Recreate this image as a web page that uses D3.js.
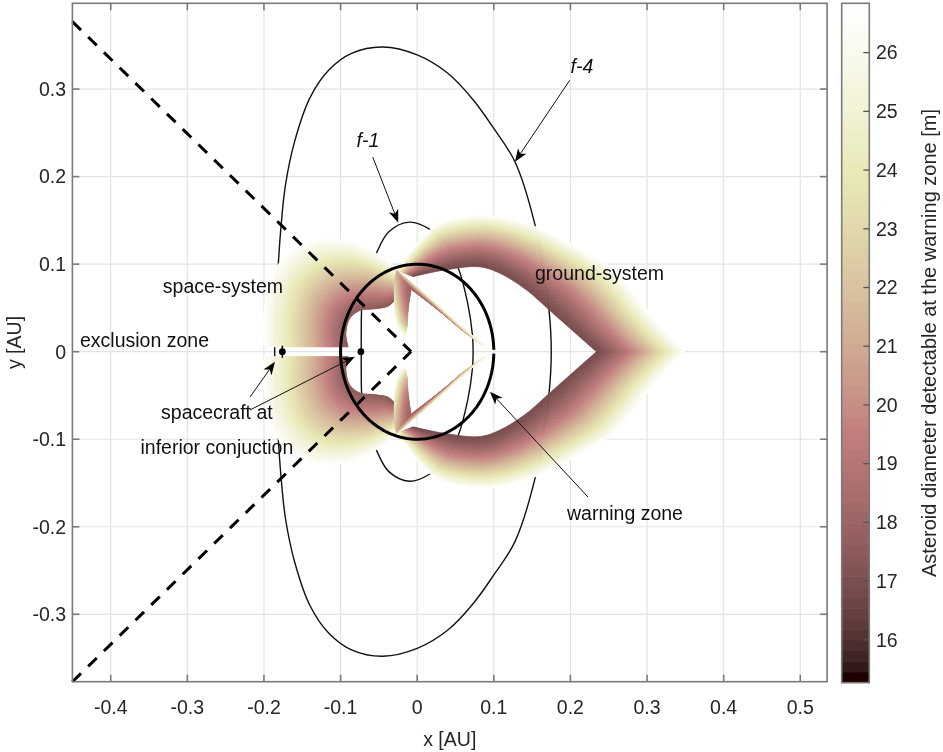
<!DOCTYPE html>
<html><head><meta charset="utf-8">
<script src="https://d3js.org/d3.v7.min.js"></script>
<style>
html,body{margin:0;padding:0;background:#fff;}
#wrap{position:relative;width:943px;height:752px;overflow:hidden;}
#wrap > *{position:absolute;left:0;top:0;}
text{font-family:"Liberation Sans",Arial,sans-serif;}
</style></head><body><div id="wrap"></div>
<script>
// ---------------- data ----------------
const xTicks=[-0.4,-0.3,-0.2,-0.1,0,0.1,0.2,0.3,0.4,0.5];
const yTicks=[-0.3,-0.2,-0.1,0,0.1,0.2,0.3];
const xDomain=[-0.45,0.535];
const yDomain=[-0.377,0.398];
const cbTicks=[16,17,18,19,20,21,22,23,24,25,26];
const cbDomain=[15.27,26.84];
const cbLevels=64;

const warningRadius=0.1;
const exclusionVertex=[-0.008,0];
const exclusionEdge=[-0.45,0.377];
const spacecraftX=[-0.176,-0.0735];

// f-1 and f-4 contours (upper half, mirrored for the lower half)
const f1Upper=[[0.073,0],[0.072,0.02],[0.066,0.055],[0.053,0.097],[0.037,0.123],[0.016,0.14],[-0.01,0.148],[-0.037,0.137],[-0.054,0.111],[-0.066,0.085],[-0.072,0.055],[-0.073,0.02],[-0.073,0]];
const f4Upper=[[0.175,0],[0.172,0.048],[0.163,0.1],[0.1538,0.1448],[0.1276,0.217],[0.1,0.255],[0.0732,0.2876],[0.04,0.318],[0.0,0.339],[-0.045,0.348],[-0.085,0.341],[-0.115,0.322],[-0.14,0.29],[-0.16,0.24],[-0.172,0.19],[-0.178,0.14],[-0.182,0.09],[-0.185,0.04],[-0.186,0]];

// detectable-diameter bands: outer (pale) edge, inner (dark) edge, values [m]
const spaceOuter=[[-0.2,0.0055],[-0.201,0.03],[-0.198,0.06],[-0.188,0.09],[-0.168,0.113],[-0.14,0.126],[-0.11,0.129],[-0.08,0.124],[-0.055,0.113],[-0.038,0.103],[-0.027,0.093]];
const spaceInner=[[-0.09,0.0055],[-0.093,0.02],[-0.088,0.038],[-0.075,0.047],[-0.055,0.049],[-0.038,0.052],[-0.028,0.06]];
const spaceOuterVal=[26.8,26.8];
const spaceInnerVal=[17.3,17.3];

const groundOuter=[[-0.027,0.093],[-0.01,0.113],[0.007,0.131],[0.029,0.147],[0.059,0.154],[0.094,0.156],[0.13,0.15],[0.165,0.139],[0.195,0.1257],[0.225,0.111],[0.2516,0.097],[0.278,0.072],[0.2995,0.0476],[0.325,0.022],[0.3495,0]];
const groundInner=[[-0.005,0.086],[0.037,0.0935],[0.081,0.097],[0.107,0.09],[0.142,0.071],[0.172,0.048],[0.203,0.024],[0.234,0]];
const groundOuterVal=[26.8,26.8];
const groundInnerVal=[16.8,16.8];

const hornOuter=[[-0.027,0.093],[-0.03,0.072],[-0.029,0.05],[-0.025,0.03],[-0.016,0.016]];
const hornInner=[[-0.008,0.072],[-0.01,0.06],[-0.012,0.045],[-0.013,0.03],[-0.016,0.016]];
const hornOuterVal=[21,23,24.5,25.5,26.6];
const hornInnerVal=[18,18.5,19.5,21.5,26.6];

const spikeOuter=[[-0.027,0.093],[0.0,0.073],[0.03,0.05],[0.06,0.027],[0.095,0.002]];
const spikeInner=[[-0.006,0.07],[0.012,0.058],[0.035,0.042],[0.062,0.022],[0.095,0.002]];
const spikeOuterVal=[22,23.5,24.5,25.5,26.6];
const spikeInnerVal=[18,18.5,19.5,21.5,26.6];

// annotations (data coordinates)
const labels=[
  {text:"f-4",x:0.215,y:0.3184,anchor:"middle",italic:true},
  {text:"f-1",x:-0.0642,y:0.2339,anchor:"middle",italic:true},
  {text:"space-system",x:-0.332,y:0.067,anchor:"start"},
  {text:"ground-system",x:0.1538,y:0.0819,anchor:"start"},
  {text:"exclusion zone",x:-0.4401,y:0.0054,anchor:"start"},
  {text:"spacecraft at",x:-0.2614,y:-0.0769,anchor:"middle"},
  {text:"inferior conjuction",x:-0.2614,y:-0.1169,anchor:"middle"},
  {text:"warning zone",x:0.2712,y:-0.1923,anchor:"middle"}
];
const arrows=[
  {from:[0.199,0.31],to:[0.1276,0.217]},
  {from:[-0.058,0.2224],to:[-0.0247,0.1474]},
  {from:[0.2229,-0.166],to:[0.095,-0.0457]},
  {from:[-0.2182,-0.0518],to:[-0.1856,-0.0114]},
  {from:[-0.2182,-0.0666],to:[-0.0812,-0.0057]}
];

// ---------------- setup ----------------
const W=943,H=752;
const wrap=d3.select('#wrap');
const svgB=wrap.append('svg').attr('width',W).attr('height',H);
const canvas=wrap.append('canvas').attr('width',W).attr('height',H).node();
const svgT=wrap.append('svg').attr('width',W).attr('height',H);
const ctx=canvas.getContext('2d');

const x=d3.scaleLinear(xDomain,[72.4,827.1]);
const y=d3.scaleLinear(yDomain,[681.7,3.3]);
const plotL=x(xDomain[0]),plotR=x(xDomain[1]),plotT=y(yDomain[1]),plotB=y(yDomain[0]);

function pinkRGB(t){
  const k=t*(cbLevels-1);
  const rh=Math.min(1,(k+1)/24), gh=Math.max(0,Math.min(1,(k-23)/24)), bh=Math.max(0,Math.min(1,(k-47)/16));
  return [rh,gh,bh].map(h=>Math.round(255*Math.sqrt((2*t+h)/3)));
}
function pinkCss(t){const c=pinkRGB(t);return `rgb(${c[0]},${c[1]},${c[2]})`;}
const colorT=d3.scaleLinear(cbDomain,[0,1]).clamp(true);

const mirror=pts=>pts.map(([a,b])=>[a,-b]);
function closedCurve(upper){return upper.concat(mirror(upper).slice(1,-1).reverse());}

// ---------------- grid ----------------
const grid=svgB.append('g').attr('stroke','#e4e4e4').attr('stroke-width',1.2);
grid.selectAll('line.gx').data(xTicks).join('line').attr('x1',d=>x(d)).attr('x2',d=>x(d)).attr('y1',plotT).attr('y2',plotB);
grid.selectAll('line.gy').data(yTicks).join('line').attr('y1',d=>y(d)).attr('y2',d=>y(d)).attr('x1',plotL).attr('x2',plotR);

// ---------------- f contours ----------------
const lineClosed=d3.line().x(d=>x(d[0])).y(d=>y(d[1])).curve(d3.curveCatmullRomClosed.alpha(0.5));
[f1Upper,f4Upper].forEach(c=>{
  svgB.append('path').attr('d',lineClosed(closedCurve(c))).attr('fill','none').attr('stroke','#111').attr('stroke-width',1.4);
});

// ---------------- bands on canvas ----------------
const tmpPath=svgB.append('path').attr('fill','none').attr('stroke','none');
const lineOpen=d3.line().x(d=>x(d[0])).y(d=>y(d[1])).curve(d3.curveCatmullRom.alpha(0.5));
function sample(pts,n){
  tmpPath.attr('d',lineOpen(pts));
  const node=tmpPath.node(),L=node.getTotalLength();
  return d3.range(n).map(i=>{const p=node.getPointAtLength(L*i/(n-1));return [p.x,p.y];});
}
function valueScale(arr){return d3.scaleLinear(arr.map((_,i)=>i/(arr.length-1)),arr);}
function drawBand(b,flip){
  const N=110,M=32;
  const o=sample(flip?mirror(b.outer):b.outer,N), inn=sample(flip?mirror(b.inner):b.inner,N);
  const vo=valueScale(b.vOut), vi=valueScale(b.vIn);
  const P=(k,tt)=>[o[k][0]+(inn[k][0]-o[k][0])*tt,o[k][1]+(inn[k][1]-o[k][1])*tt];
  for(let i=0;i<N-1;i++){
    const s=(i+0.5)/(N-1),a=vo(s),bb=vi(s);
    for(let j=0;j<M;j++){
      const t0=j/M,t1=(j+1)/M,t=(j+0.5)/M;
      const v=bb+(a-bb)*Math.pow(1-t,b.p);
      const c=pinkCss(colorT(v));
      const q=[P(i,t0),P(i+1,t0),P(i+1,t1),P(i,t1)];
      ctx.beginPath();ctx.moveTo(q[0][0],q[0][1]);
      for(let m=1;m<4;m++)ctx.lineTo(q[m][0],q[m][1]);
      ctx.closePath();
      ctx.fillStyle=c;ctx.strokeStyle=c;ctx.lineWidth=0.7;
      ctx.fill();ctx.stroke();
    }
  }
}
const bands=[
  {outer:spaceOuter,inner:spaceInner,vOut:spaceOuterVal,vIn:spaceInnerVal,p:1.0},
  {outer:groundOuter,inner:groundInner,vOut:groundOuterVal,vIn:groundInnerVal,p:1.4},
  {outer:hornOuter,inner:hornInner,vOut:hornOuterVal,vIn:hornInnerVal,p:1.5},
  {outer:spikeOuter,inner:spikeInner,vOut:spikeOuterVal,vIn:spikeInnerVal,p:1.5}
];
bands.forEach(b=>{drawBand(b,false);drawBand(b,true);});
tmpPath.remove();

// ---------------- warning zone circle ----------------
const gap=0.022;
const circPts=d3.range(0,201).map(i=>{const a=gap+(2*Math.PI-2*gap)*i/200;return [warningRadius*Math.cos(a),warningRadius*Math.sin(a)];});
svgT.append('path').attr('d',d3.line().x(d=>x(d[0])).y(d=>y(d[1]))(circPts)).attr('fill','none').attr('stroke','#000').attr('stroke-width',3);

// ---------------- exclusion dashed lines ----------------
[1,-1].forEach(sg=>{
  svgT.append('line').attr('x1',x(exclusionEdge[0])).attr('y1',y(sg*exclusionEdge[1]))
    .attr('x2',x(exclusionVertex[0])).attr('y2',y(exclusionVertex[1]))
    .attr('stroke','#000').attr('stroke-width',3).attr('stroke-dasharray','12,10');
});

// ---------------- spacecraft ----------------
svgT.append('line').attr('x1',x(spacecraftX[0])).attr('x2',x(spacecraftX[0])).attr('y1',y(0)-6).attr('y2',y(0)+6).attr('stroke','#000').attr('stroke-width',1.5);
svgT.selectAll('circle.sc').data(spacecraftX).join('circle').attr('cx',d=>x(d)).attr('cy',y(0)).attr('r',3.4).attr('fill','#000');

// ---------------- arrows ----------------
function arrowHead(x1,y1,x2,y2,len,half,notch){
  const dx=x2-x1,dy=y2-y1,d=Math.hypot(dx,dy),ux=dx/d,uy=dy/d,nx=-uy,ny=ux;
  const bx=x2-ux*len,by=y2-uy*len,mx=x2-ux*(len-notch),my=y2-uy*(len-notch);
  return {d:`M${x2},${y2}L${bx+nx*half},${by+ny*half}L${mx},${my}L${bx-nx*half},${by-ny*half}Z`,mx,my};
}
arrows.forEach(a=>{
  const x1=x(a.from[0]),y1=y(a.from[1]),x2=x(a.to[0]),y2=y(a.to[1]);
  const h=arrowHead(x1,y1,x2,y2,13,5,3.5);
  svgT.append('line').attr('x1',x1).attr('y1',y1).attr('x2',h.mx).attr('y2',h.my).attr('stroke','#111').attr('stroke-width',1);
  svgT.append('path').attr('d',h.d).attr('fill','#000');
});

// ---------------- labels ----------------
svgT.selectAll('text.lab').data(labels).join('text')
  .attr('x',d=>x(d.x)).attr('y',d=>y(d.y)).attr('text-anchor',d=>d.anchor)
  .attr('font-size',19.5).attr('font-style',d=>d.italic?'italic':'normal').attr('fill','#111').text(d=>d.text);

// ---------------- axes ----------------
const ax=svgT.append('g').attr('stroke','#7a7a7a').attr('stroke-width',1.6);
ax.append('rect').attr('x',plotL).attr('y',plotT).attr('width',plotR-plotL).attr('height',plotB-plotT).attr('fill','none');
xTicks.forEach(v=>{
  ax.append('line').attr('x1',x(v)).attr('x2',x(v)).attr('y1',plotB).attr('y2',plotB-7);
  ax.append('line').attr('x1',x(v)).attr('x2',x(v)).attr('y1',plotT).attr('y2',plotT+7);
});
yTicks.forEach(v=>{
  ax.append('line').attr('y1',y(v)).attr('y2',y(v)).attr('x1',plotL).attr('x2',plotL+7);
  ax.append('line').attr('y1',y(v)).attr('y2',y(v)).attr('x1',plotR).attr('x2',plotR-7);
});
const fmt=v=>Math.abs(v)<1e-9?"0":v.toFixed(1);
svgT.selectAll('text.xt').data(xTicks).join('text').attr('x',d=>x(d)).attr('y',714).attr('text-anchor','middle')
  .attr('font-size',19.5).attr('fill','#262626').text(fmt);
svgT.selectAll('text.yt').data(yTicks).join('text').attr('x',66).attr('y',d=>y(d)).attr('dy','0.35em').attr('text-anchor','end')
  .attr('font-size',19.5).attr('fill','#262626').text(fmt);
svgT.append('text').attr('x',(plotL+plotR)/2).attr('y',746).attr('text-anchor','middle').attr('font-size',19.5).attr('fill','#262626').text('x [AU]');
svgT.append('text').attr('transform',`translate(21,${(plotT+plotB)/2}) rotate(-90)`).attr('text-anchor','middle').attr('font-size',19.5).attr('fill','#262626').text('y [AU]');

// ---------------- colorbar ----------------
const cbL=841.7,cbR=869.3;
const cy=d3.scaleLinear(cbDomain,[682.7,3.3]);
const step=(cbDomain[1]-cbDomain[0])/cbLevels;
svgT.append('g').selectAll('rect').data(d3.range(cbLevels)).join('rect')
  .attr('x',cbL).attr('width',cbR-cbL)
  .attr('y',k=>cy(cbDomain[0]+(k+1)*step)-0.3).attr('height',k=>cy(cbDomain[0]+k*step)-cy(cbDomain[0]+(k+1)*step)+0.6)
  .attr('fill',k=>pinkCss(k/(cbLevels-1)));
svgT.append('rect').attr('x',cbL).attr('y',cy(cbDomain[1])).attr('width',cbR-cbL).attr('height',cy(cbDomain[0])-cy(cbDomain[1]))
  .attr('fill','none').attr('stroke','#7a7a7a').attr('stroke-width',1.6);
svgT.append('g').selectAll('line').data(cbTicks).join('line').attr('x1',cbR).attr('x2',cbR-6).attr('y1',d=>cy(d)).attr('y2',d=>cy(d))
  .attr('stroke','#555').attr('stroke-width',1.3);
svgT.selectAll('text.cbt').data(cbTicks).join('text').attr('x',876).attr('y',d=>cy(d)).attr('dy','0.35em')
  .attr('font-size',19.5).attr('fill','#262626').text(d=>d);
svgT.append('text').attr('transform',`translate(936,${(cy(cbDomain[0])+cy(cbDomain[1]))/2}) rotate(-90)`).attr('text-anchor','middle')
  .attr('font-size',20).attr('fill','#262626').text('Asteroid diameter detectable at the warning zone [m]');
</script></body></html>
